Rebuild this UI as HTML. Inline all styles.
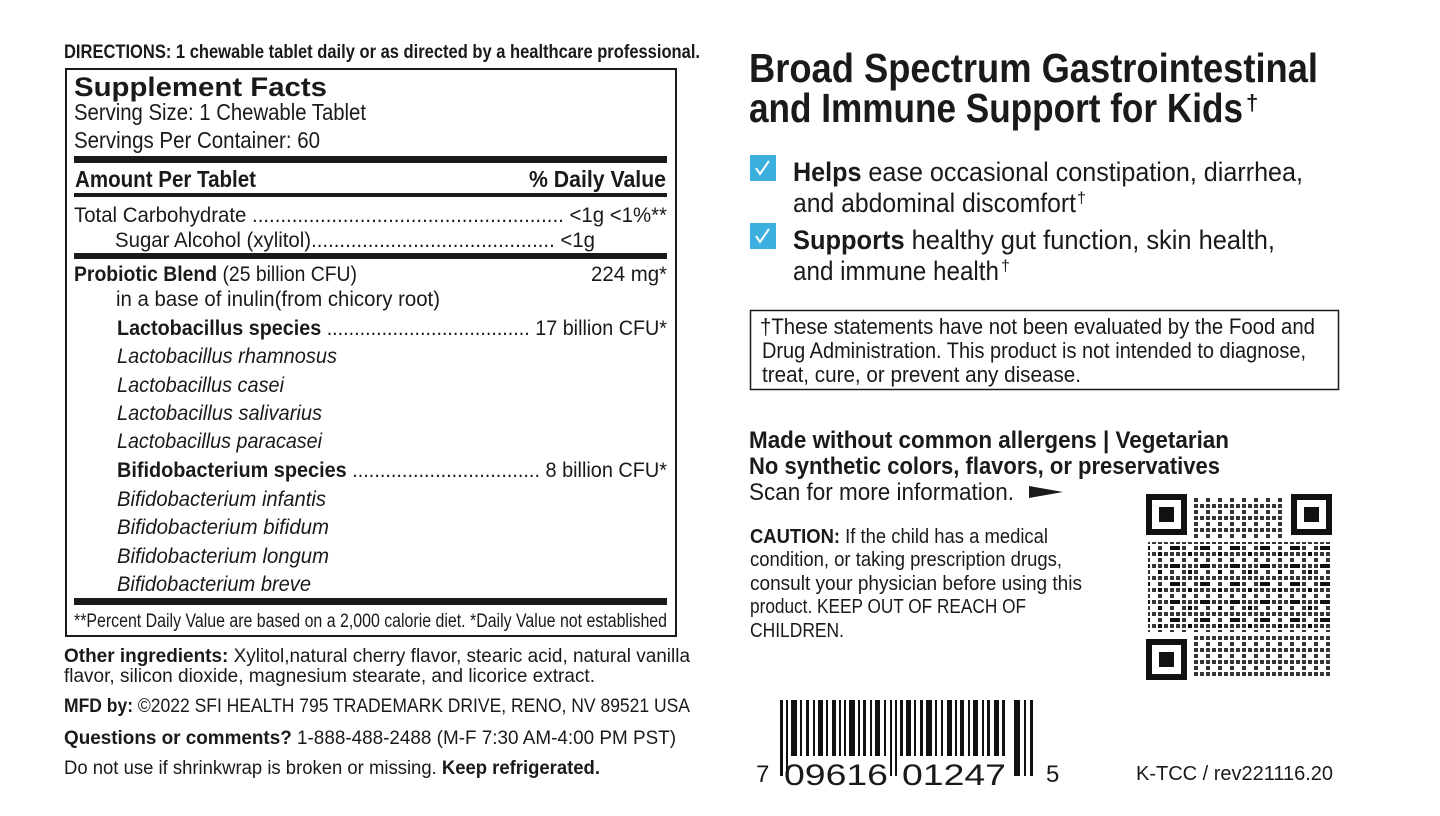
<!DOCTYPE html>
<html><head><meta charset="utf-8"><style>
html,body{margin:0;padding:0;background:#fff;}
svg{display:block}
text{font-family:"Liberation Sans",sans-serif;fill:#1a1a1a}
.b{font-weight:bold}
.i{font-style:italic}
</style></head><body>
<svg width="1440" height="816" viewBox="0 0 1440 816" xmlns="http://www.w3.org/2000/svg">
<defs>
<pattern id="pa" width="12" height="12" patternUnits="userSpaceOnUse"><rect x="0" y="0" width="4" height="4" fill="#111"/><rect x="6" y="6" width="4" height="4" fill="#111"/><rect x="6" y="0" width="4" height="4" fill="#111"/></pattern>
<pattern id="pb" width="30" height="18" patternUnits="userSpaceOnUse"><rect x="0" y="6" width="10" height="4" fill="#111"/><rect x="18" y="12" width="4" height="4" fill="#111"/></pattern>
</defs>
<text x="64" y="58" font-size="19" class="b" textLength="636" lengthAdjust="spacingAndGlyphs">DIRECTIONS: 1 chewable tablet daily or as directed by a healthcare professional.</text>
<rect x="66" y="69" width="610" height="567" fill="none" stroke="#1a1a1a" stroke-width="2"/>
<text x="74" y="96" font-size="27" font-weight="900" textLength="253" lengthAdjust="spacingAndGlyphs">Supplement Facts</text>
<text x="74" y="120" font-size="23" textLength="292" lengthAdjust="spacingAndGlyphs">Serving Size: 1 Chewable Tablet</text>
<text x="74" y="148" font-size="23" textLength="246" lengthAdjust="spacingAndGlyphs">Servings Per Container: 60</text>
<rect x="74" y="156" width="593" height="7" fill="#1a1a1a"/>
<text x="75" y="187" font-size="23" class="b" textLength="181" lengthAdjust="spacingAndGlyphs">Amount Per Tablet</text>
<text x="529" y="187" font-size="23" class="b" textLength="137" lengthAdjust="spacingAndGlyphs">% Daily Value</text>
<rect x="74" y="193" width="593" height="4" fill="#1a1a1a"/>
<text x="74" y="222" font-size="21" textLength="593" lengthAdjust="spacingAndGlyphs">Total Carbohydrate ....................................................... &lt;1g  &lt;1%**</text>
<text x="115" y="247" font-size="21" textLength="480" lengthAdjust="spacingAndGlyphs">Sugar Alcohol (xylitol)........................................... &lt;1g</text>
<rect x="74" y="253" width="593" height="6" fill="#1a1a1a"/>
<text x="74" y="281" font-size="21" textLength="283" lengthAdjust="spacingAndGlyphs"><tspan class="b">Probiotic Blend</tspan> (25 billion CFU)</text>
<text x="591" y="281" font-size="21" textLength="76" lengthAdjust="spacingAndGlyphs">224 mg*</text>
<text x="116" y="306" font-size="21" textLength="324" lengthAdjust="spacingAndGlyphs">in a base of inulin(from chicory root)</text>
<text x="117" y="335" font-size="21" textLength="550" lengthAdjust="spacingAndGlyphs"><tspan class="b">Lactobacillus species</tspan> ..................................... 17 billion CFU*</text>
<text x="117" y="363" font-size="21" class="i" textLength="220" lengthAdjust="spacingAndGlyphs">Lactobacillus rhamnosus</text>
<text x="117" y="392" font-size="21" class="i" textLength="167" lengthAdjust="spacingAndGlyphs">Lactobacillus casei</text>
<text x="117" y="420" font-size="21" class="i" textLength="205" lengthAdjust="spacingAndGlyphs">Lactobacillus salivarius</text>
<text x="117" y="448" font-size="21" class="i" textLength="205" lengthAdjust="spacingAndGlyphs">Lactobacillus paracasei</text>
<text x="117" y="477" font-size="21" textLength="550" lengthAdjust="spacingAndGlyphs"><tspan class="b">Bifidobacterium species</tspan> .................................. 8 billion CFU*</text>
<text x="117" y="506" font-size="21" class="i" textLength="209" lengthAdjust="spacingAndGlyphs">Bifidobacterium infantis</text>
<text x="117" y="534" font-size="21" class="i" textLength="212" lengthAdjust="spacingAndGlyphs">Bifidobacterium bifidum</text>
<text x="117" y="563" font-size="21" class="i" textLength="212" lengthAdjust="spacingAndGlyphs">Bifidobacterium longum</text>
<text x="117" y="591" font-size="21" class="i" textLength="194" lengthAdjust="spacingAndGlyphs">Bifidobacterium breve</text>
<rect x="74" y="598" width="593" height="7" fill="#1a1a1a"/>
<text x="74" y="627" font-size="19" textLength="593" lengthAdjust="spacingAndGlyphs">**Percent Daily Value are based on a 2,000 calorie diet.  *Daily Value not established</text>
<text x="64" y="662" font-size="19" textLength="626" lengthAdjust="spacingAndGlyphs"><tspan class="b">Other ingredients:</tspan> Xylitol,natural cherry flavor, stearic acid, natural vanilla</text>
<text x="64" y="682" font-size="19" textLength="531" lengthAdjust="spacingAndGlyphs">flavor, silicon dioxide, magnesium stearate, and licorice extract.</text>
<text x="64" y="712" font-size="19" textLength="626" lengthAdjust="spacingAndGlyphs"><tspan class="b">MFD by:</tspan> ©2022 SFI HEALTH  795 TRADEMARK DRIVE, RENO, NV 89521 USA</text>
<text x="64" y="744" font-size="19" textLength="612" lengthAdjust="spacingAndGlyphs"><tspan class="b">Questions or comments?</tspan> 1-888-488-2488 (M-F 7:30 AM-4:00 PM PST)</text>
<text x="64" y="774" font-size="19" textLength="536" lengthAdjust="spacingAndGlyphs">Do not use if shrinkwrap is broken or missing. <tspan class="b">Keep refrigerated.</tspan></text>

<text x="749" y="82" font-size="41" font-weight="900" textLength="569" lengthAdjust="spacingAndGlyphs">Broad Spectrum Gastrointestinal</text>
<text x="749" y="122" font-size="41" font-weight="900" textLength="494" lengthAdjust="spacingAndGlyphs">and Immune Support for Kids</text>
<text x="1246" y="110" font-size="22" class="b">†</text>
<rect x="750" y="155" width="26" height="26" fill="#3bb0de"/>
<path d="M756 168 l4 6 l9 -13" stroke="#fff" stroke-width="2" fill="none"/>
<rect x="750" y="223" width="26" height="26" fill="#3bb0de"/>
<path d="M756 236 l4 6 l9 -13" stroke="#fff" stroke-width="2" fill="none"/>
<text x="793" y="181" font-size="27" textLength="510" lengthAdjust="spacingAndGlyphs"><tspan font-weight="900">Helps</tspan> ease occasional constipation, diarrhea,</text>
<text x="793" y="212" font-size="27" textLength="283" lengthAdjust="spacingAndGlyphs">and abdominal discomfort</text>
<text x="1077" y="203" font-size="16">†</text>
<text x="793" y="249" font-size="27" textLength="482" lengthAdjust="spacingAndGlyphs"><tspan font-weight="900">Supports</tspan> healthy gut function, skin health,</text>
<text x="793" y="280" font-size="27" textLength="206" lengthAdjust="spacingAndGlyphs">and immune health</text>
<text x="1001" y="271" font-size="16">†</text>
<rect x="750.5" y="310.5" width="588" height="79" fill="none" stroke="#1a1a1a" stroke-width="1.5"/>
<text x="760" y="334" font-size="22" textLength="555" lengthAdjust="spacingAndGlyphs">†These statements have not been evaluated by the Food and</text>
<text x="762" y="358" font-size="22" textLength="544" lengthAdjust="spacingAndGlyphs">Drug Administration. This product is not intended to diagnose,</text>
<text x="762" y="382" font-size="22" textLength="319" lengthAdjust="spacingAndGlyphs">treat, cure, or prevent any disease.</text>
<text x="749" y="448" font-size="24" class="b" textLength="480" lengthAdjust="spacingAndGlyphs">Made without common allergens | Vegetarian</text>
<text x="749" y="474" font-size="24" class="b" textLength="471" lengthAdjust="spacingAndGlyphs">No synthetic colors, flavors, or preservatives</text>
<text x="749" y="500" font-size="24" textLength="265" lengthAdjust="spacingAndGlyphs">Scan for more information.</text>
<path d="M1029 486 L1063 492 L1029 498 Z" fill="#1a1a1a"/>
<text x="750" y="543" font-size="20" textLength="298" lengthAdjust="spacingAndGlyphs"><tspan class="b">CAUTION:</tspan> If the child has a medical</text>
<text x="750" y="566" font-size="20" textLength="312" lengthAdjust="spacingAndGlyphs">condition, or taking prescription drugs,</text>
<text x="750" y="590" font-size="20" textLength="332" lengthAdjust="spacingAndGlyphs">consult your physician before using this</text>
<text x="750" y="613" font-size="20" textLength="276" lengthAdjust="spacingAndGlyphs">product. KEEP OUT OF REACH OF</text>
<text x="750" y="637" font-size="20" textLength="94" lengthAdjust="spacingAndGlyphs">CHILDREN.</text>

<g>
<rect x="1194" y="496" width="90" height="44" fill="url(#pa)" opacity="0.85"/>
<rect x="1148" y="542" width="184" height="90" fill="url(#pa)" opacity="0.85"/>
<rect x="1148" y="542" width="184" height="90" fill="url(#pb)"/>
<rect x="1194" y="634" width="138" height="44" fill="url(#pa)" opacity="0.85"/>
<g fill="none" stroke="#111" stroke-width="6">
<rect x="1149" y="497" width="35" height="35"/><rect x="1294" y="497" width="35" height="35"/><rect x="1149" y="642" width="35" height="35"/>
</g>
<rect x="1159" y="507" width="15" height="15" fill="#111"/><rect x="1304" y="507" width="15" height="15" fill="#111"/><rect x="1159" y="652" width="15" height="15" fill="#111"/>
</g>

<g fill="#111">
<rect x="780" y="700" width="3" height="76"/><rect x="786" y="700" width="2" height="76"/>
<rect x="791" y="700" width="6" height="56"/><rect x="800" y="700" width="2" height="56"/><rect x="806" y="700" width="3" height="56"/>
<rect x="813" y="700" width="2" height="56"/><rect x="818" y="700" width="5" height="56"/><rect x="826" y="700" width="2" height="56"/>
<rect x="832" y="700" width="4" height="56"/><rect x="839" y="700" width="2" height="56"/><rect x="844" y="700" width="2" height="56"/>
<rect x="849" y="700" width="6" height="56"/><rect x="858" y="700" width="2" height="56"/><rect x="863" y="700" width="3" height="56"/>
<rect x="870" y="700" width="2" height="56"/><rect x="875" y="700" width="5" height="56"/><rect x="884" y="700" width="2" height="56"/>
<rect x="890" y="700" width="2" height="76"/><rect x="895" y="700" width="2" height="76"/>
<rect x="900" y="700" width="3" height="56"/><rect x="906" y="700" width="5" height="56"/><rect x="914" y="700" width="2" height="56"/>
<rect x="920" y="700" width="3" height="56"/><rect x="926" y="700" width="6" height="56"/><rect x="935" y="700" width="2" height="56"/>
<rect x="941" y="700" width="2" height="56"/><rect x="947" y="700" width="5" height="56"/><rect x="955" y="700" width="2" height="56"/>
<rect x="960" y="700" width="4" height="56"/><rect x="968" y="700" width="2" height="56"/><rect x="973" y="700" width="5" height="56"/>
<rect x="982" y="700" width="2" height="56"/><rect x="987" y="700" width="3" height="56"/><rect x="994" y="700" width="5" height="56"/>
<rect x="1002" y="700" width="3" height="56"/>
<rect x="1014" y="700" width="6" height="76"/><rect x="1024" y="700" width="2" height="76"/><rect x="1030" y="700" width="3" height="76"/>
</g>
<text x="756" y="782" font-size="24">7</text>
<text x="784" y="785" font-size="30" textLength="104" lengthAdjust="spacingAndGlyphs">09616</text>
<text x="902" y="785" font-size="30" textLength="104" lengthAdjust="spacingAndGlyphs">01247</text>
<text x="1046" y="782" font-size="24">5</text>
<text x="1136" y="780" font-size="20" textLength="197" lengthAdjust="spacingAndGlyphs">K-TCC / rev221116.20</text>
</svg>
</body></html>
